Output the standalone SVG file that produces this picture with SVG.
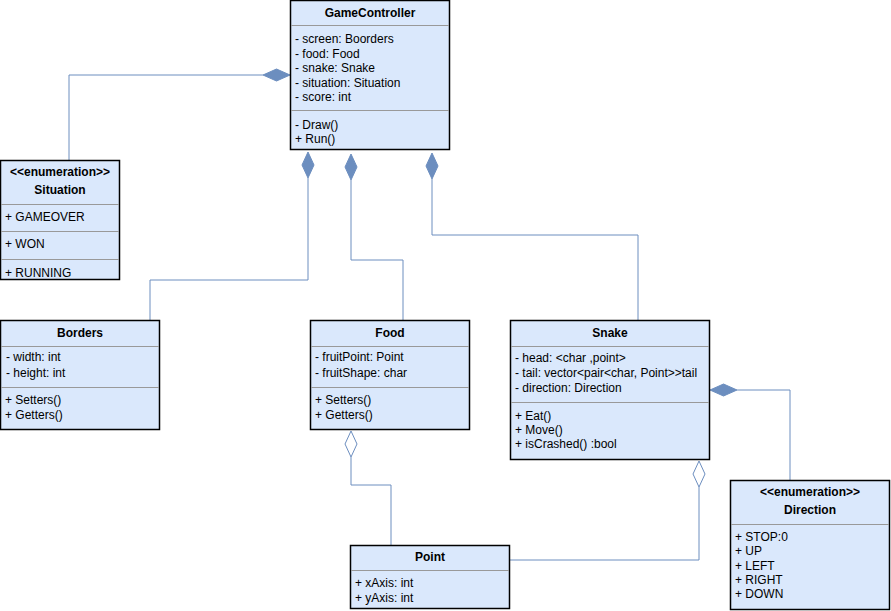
<svg xmlns="http://www.w3.org/2000/svg" width="891" height="611" viewBox="0 0 891 611">
<style>
.box{fill:#dae8fc;stroke:#000;stroke-width:1.5}
.sep{stroke:#999;stroke-width:1}
.t{font-family:"Liberation Sans",Arial,sans-serif;font-size:12px;fill:#000}
.b{font-weight:bold;text-anchor:middle}
.c{text-anchor:middle}
.ln{fill:none;stroke:#6c8ebf;stroke-width:1}
.dia{fill:#6c8ebf;stroke:#6c8ebf}
.odia{fill:#fff;stroke:#6c8ebf}
</style>
<rect width="891" height="611" fill="#fff"/>
<g id="connectors">
<path class="ln" d="M69 160 V75 H263"/>
<path class="dia" d="M263 75 L276.5 69 L290 75 L276.5 81 Z"/>
<path class="ln" d="M150 320 V280 H308 V178"/>
<path class="dia" d="M308 152 L314 165 L308 178 L302 165 Z"/>
<path class="ln" d="M403 320 V260 H351 V180"/>
<path class="dia" d="M351 154 L357 167 L351 180 L345 167 Z"/>
<path class="ln" d="M638 320 V235 H432 V179"/>
<path class="dia" d="M432 153 L438 166 L432 179 L426 166 Z"/>
<path class="ln" d="M790 480 V390 H737"/>
<path class="dia" d="M710 390 L723.5 384 L737 390 L723.5 396 Z"/>
<path class="ln" d="M391 545 V485 H351 V457"/>
<path class="odia" d="M351 431 L357 444 L351 457 L345 444 Z"/>
<path class="ln" d="M510 560 H699 V487"/>
<path class="odia" d="M699 461 L705 474 L699 487 L693 474 Z"/>
</g>
<g id="GameController">
<rect class="box" x="290.5" y="0.5" width="159" height="149"/>
<line class="sep" x1="291" y1="25.5" x2="449" y2="25.5"/>
<line class="sep" x1="291" y1="110.5" x2="449" y2="110.5"/>
<text class="t b" x="370" y="17">GameController</text>
<text class="t" x="295" y="43">- screen: Boorders</text>
<text class="t" x="295" y="58">- food: Food</text>
<text class="t" x="295" y="72">- snake: Snake</text>
<text class="t" x="295" y="87">- situation: Situation</text>
<text class="t" x="295" y="101">- score: int</text>
<text class="t" x="295" y="129">- Draw()</text>
<text class="t" x="295" y="143">+ Run()</text>
</g>
<g id="Situation">
<rect class="box" x="0.5" y="160.5" width="119" height="119"/>
<line class="sep" x1="1" y1="204.5" x2="119" y2="204.5"/>
<line class="sep" x1="1" y1="231.5" x2="119" y2="231.5"/>
<line class="sep" x1="1" y1="259.5" x2="119" y2="259.5"/>
<text class="t b" x="60" y="176">&lt;&lt;enumeration&gt;&gt;</text>
<text class="t b" x="60" y="194">Situation</text>
<text class="t" x="5" y="221">+ GAMEOVER</text>
<text class="t" x="5" y="248">+ WON</text>
<text class="t" x="5" y="277">+ RUNNING</text>
</g>
<g id="Borders">
<rect class="box" x="0.5" y="320.5" width="159" height="109"/>
<line class="sep" x1="1" y1="346.5" x2="159" y2="346.5"/>
<line class="sep" x1="1" y1="387.5" x2="159" y2="387.5"/>
<text class="t b" x="80" y="337">Borders</text>
<text class="t" x="6" y="361">- width: int</text>
<text class="t" x="6" y="377">- height: int</text>
<text class="t" x="5" y="404">+ Setters()</text>
<text class="t" x="5" y="419">+ Getters()</text>
</g>
<g id="Food">
<rect class="box" x="310.5" y="320.5" width="159" height="109"/>
<line class="sep" x1="311" y1="346.5" x2="469" y2="346.5"/>
<line class="sep" x1="311" y1="387.5" x2="469" y2="387.5"/>
<text class="t b" x="390" y="337">Food</text>
<text class="t" x="315" y="361">- fruitPoint: Point</text>
<text class="t" x="315" y="377">- fruitShape: char</text>
<text class="t" x="315" y="404">+ Setters()</text>
<text class="t" x="315" y="419">+ Getters()</text>
</g>
<g id="Snake">
<rect class="box" x="510.5" y="320.5" width="199" height="139"/>
<line class="sep" x1="511" y1="346.5" x2="709" y2="346.5"/>
<line class="sep" x1="511" y1="402.5" x2="709" y2="402.5"/>
<text class="t b" x="610" y="337">Snake</text>
<text class="t" x="515" y="362">- head: &lt;char ,point&gt;</text>
<text class="t" x="515" y="377">- tail: vector&lt;pair&lt;char, Point&gt;&gt;tail</text>
<text class="t" x="515" y="392">- direction: Direction</text>
<text class="t" x="515" y="420">+ Eat()</text>
<text class="t" x="515" y="434">+ Move()</text>
<text class="t" x="515" y="448">+ isCrashed() :bool</text>
</g>
<g id="Direction">
<rect class="box" x="730.5" y="480.5" width="159" height="129"/>
<line class="sep" x1="731" y1="524.5" x2="889" y2="524.5"/>
<text class="t b" x="810" y="496">&lt;&lt;enumeration&gt;&gt;</text>
<text class="t b" x="810" y="514">Direction</text>
<text class="t" x="735" y="541">+ STOP:0</text>
<text class="t" x="735" y="555">+ UP</text>
<text class="t" x="735" y="570">+ LEFT</text>
<text class="t" x="735" y="584">+ RIGHT</text>
<text class="t" x="735" y="598">+ DOWN</text>
</g>
<g id="Point">
<rect class="box" x="350.5" y="545.5" width="159" height="63"/>
<line class="sep" x1="351" y1="570.5" x2="509" y2="570.5"/>
<text class="t b" x="430" y="561">Point</text>
<text class="t" x="355" y="587">+ xAxis: int</text>
<text class="t" x="355" y="602">+ yAxis: int</text>
</g>
</svg>
